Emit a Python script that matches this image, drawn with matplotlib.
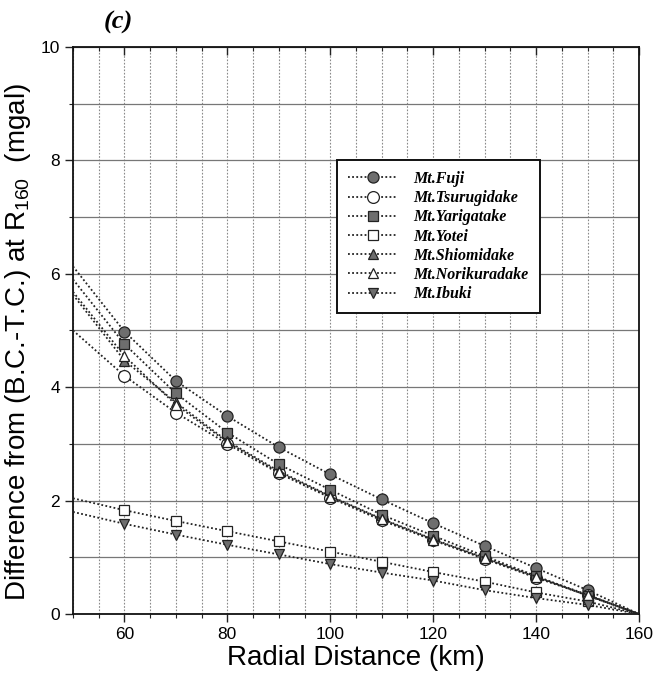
import matplotlib
matplotlib.use("Agg")
import matplotlib.pyplot as plt
from matplotlib import lines as mlines
import numpy as np

# radial distances where the differences were computed (km)
distance = [60, 70, 80, 90, 100, 110, 120, 130, 140, 150, 160]
# the curves are drawn back to the left edge of the axes
start_distance = 50

names = ["Mt.Fuji", "Mt.Tsurugidake", "Mt.Yarigatake", "Mt.Yotei",
         "Mt.Shiomidake", "Mt.Norikuradake", "Mt.Ibuki"]

# difference from (B.C.-T.C.) at R160, mgal
fuji = [4.98, 4.11, 3.49, 2.94, 2.46, 2.02, 1.60, 1.20, 0.81, 0.42, 0.0]
tsurugidake = [4.20, 3.55, 3.00, 2.48, 2.05, 1.65, 1.30, 0.97, 0.64, 0.33, 0.0]
yarigatake = [4.76, 3.89, 3.20, 2.64, 2.19, 1.75, 1.38, 1.02, 0.67, 0.32, 0.0]
yotei = [1.83, 1.64, 1.46, 1.28, 1.10, 0.92, 0.74, 0.57, 0.38, 0.22, 0.0]
shiomidake = [4.47, 3.73, 3.05, 2.52, 2.08, 1.68, 1.32, 0.99, 0.66, 0.34, 0.0]
norikuradake = [4.55, 3.69, 3.03, 2.50, 2.07, 1.67, 1.31, 0.98, 0.65, 0.33, 0.0]
ibuki = [1.59, 1.40, 1.22, 1.05, 0.88, 0.73, 0.59, 0.42, 0.28, 0.16, 0.0]

# value of each curve where it meets the left axis (50 km)
start_values = [6.13, 5.00, 5.90, 2.04, 5.63, 5.68, 1.80]

series = [fuji, tsurugidake, yarigatake, yotei, shiomidake, norikuradake, ibuki]

# marker, size, face colour for each mountain
styles = [
    ("o", 8.0, "#6e6e6e"),
    ("o", 8.5, "white"),
    ("s", 6.5, "#6e6e6e"),
    ("s", 6.5, "white"),
    ("^", 7.5, "#6e6e6e"),
    ("^", 7.5, "white"),
    ("v", 7.5, "#6e6e6e"),
]

plt.rcParams["font.family"] = ["Liberation Sans", "DejaVu Sans"]
plt.rcParams["mathtext.default"] = "regular"

fig = plt.figure(figsize=(6.55, 6.77), dpi=100)
ax = fig.add_axes([0.1115, 0.0931, 0.864, 0.8375])

dotted = (0, (1, 1.3))
for name, vals, v0, (mk, ms, fc) in zip(names, series, start_values, styles):
    xs = [start_distance] + distance
    ys = [v0] + vals
    ax.plot(xs, ys, ls=dotted, lw=1.3, color="#222222", marker=mk, ms=ms,
            mfc=fc, mec="#222222", mew=0.9, markevery=list(range(1, len(xs) - 1)),
            label=name, zorder=3)

ax.set_xlim(50, 160)
ax.set_ylim(0, 10)
ax.set_xticks(np.arange(60, 161, 20))
ax.set_xticks(np.arange(50, 161, 5), minor=True)
ax.set_yticks(np.arange(0, 11, 2))
ax.set_yticks(np.arange(0, 11, 1), minor=True)

# grid: dotted verticals every 5 km, solid horizontals every 1 mgal
ax.grid(which="both", axis="x", color="#8a8a8a", lw=0.8, ls=(0, (1.5, 1.5)))
ax.grid(which="both", axis="y", color="#777777", lw=0.9, ls="-")
ax.set_axisbelow(True)

ax.tick_params(which="major", direction="out", length=6, width=1, labelsize=12.5,
               color="#222222")
ax.tick_params(which="minor", direction="out", length=3, width=0.8, color="#222222")
ax.tick_params(axis="x", top=True, which="both")
# ticks along the top edge point into the plot
for t in ax.xaxis.get_major_ticks() + ax.xaxis.get_minor_ticks():
    t.tick2line.set_marker(mlines.TICKDOWN)
for sp in ax.spines.values():
    sp.set_linewidth(1.3)
    sp.set_color("#111111")

ax.set_xlabel("Radial Distance (km)", fontsize=20, labelpad=2)
ax.set_ylabel("Difference from (B.C.-T.C.) at R$_{160}$  (mgal)", fontsize=20)
ax.yaxis.set_label_coords(-0.071, 0.48)

leg = ax.legend(loc="upper left", bbox_to_anchor=(0.466, 0.801),
                prop={"family": "Liberation Serif", "weight": "bold",
                      "style": "italic", "size": 11.5},
                handlelength=3.1, handletextpad=1.0, labelspacing=0.2,
                borderpad=0.7, fancybox=False, framealpha=1, edgecolor="#111111",
                borderaxespad=0)
leg.get_frame().set_linewidth(1.4)
leg.set_zorder(5)

fig.text(0.18, 0.967, "(c)", fontsize=19, family="Liberation Serif",
         weight="bold", style="italic", ha="center", va="center")

fig.savefig("out.png", dpi=100)
